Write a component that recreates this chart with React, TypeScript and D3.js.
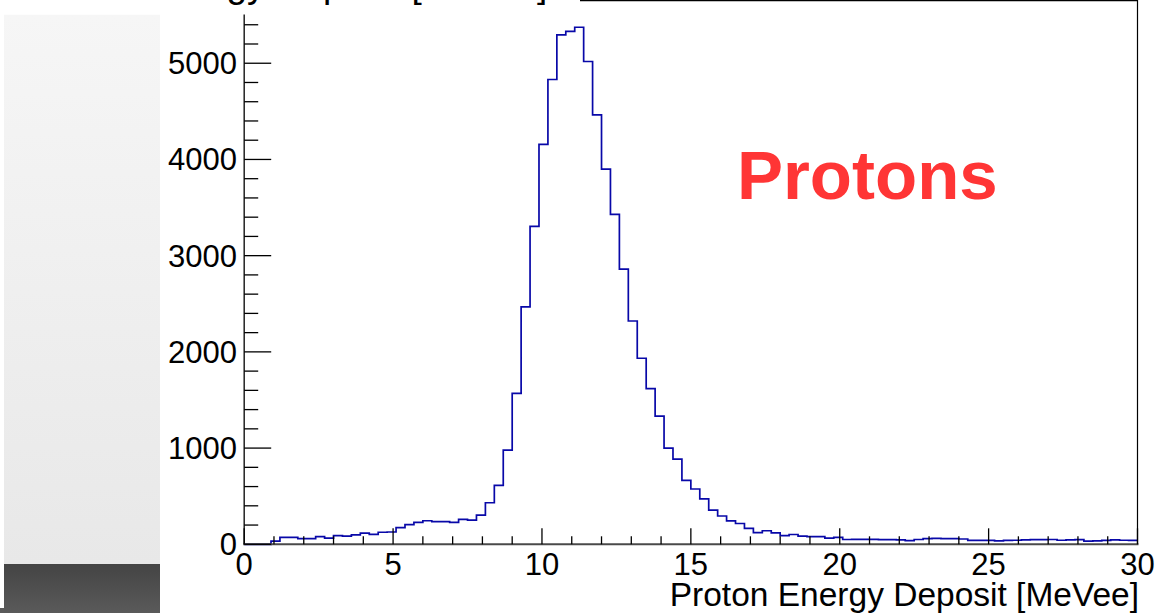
import React from "react";
import * as d3 from "d3";

// 100 bins, 0..30 MeVee, width 0.3
const binLow = 0;
const binHigh = 30;
const counts: number[] = [
  0, 0, 0, 32, 73, 73, 60, 60, 79, 65,
  90, 85, 97, 117, 104, 125, 128, 173, 204, 228,
  245, 235, 235, 228, 260, 252, 304, 432, 612, 979,
  1568, 2467, 3305, 4156, 4831, 5295, 5332, 5374, 5018, 4464,
  3900, 3429, 2861, 2321, 1934, 1618, 1332, 1000, 886, 664,
  575, 472, 356, 294, 244, 216, 166, 121, 141, 118,
  90, 102, 86, 79, 79, 65, 72, 50, 52, 52,
  52, 48, 48, 45, 38, 50, 58, 62, 60, 58,
  55, 40, 40, 40, 35, 40, 42, 45, 48, 48,
  50, 42, 45, 48, 34, 36, 40, 45, 42, 40,
];
const yMax = 5650;
const xTickLabels = ["0", "5", "10", "15", "20", "25", "30"];
const yTickLabels = ["0", "1000", "2000", "3000", "4000", "5000"];
const titleText = "Proton Energy Deposit [MeVee]";
const xAxisTitle = "Proton Energy Deposit [MeVee]";
const annotation = "Protons";

const W = 1156;
const H = 613;
const FONT = "'Liberation Sans', Arial, Helvetica, sans-serif";

export default function App() {
  const x = d3.scaleLinear().domain([binLow, binHigh]).range([244.2, 1137.5]);
  const y = d3.scaleLinear().domain([0, yMax]).range([544.3, 0.7]);
  const bw = (binHigh - binLow) / counts.length;

  const pts: [number, number][] = counts.map((c, i) => [binLow + i * bw, c]);
  pts.push([binHigh, counts[counts.length - 1]]);
  const line = d3
    .line<[number, number]>()
    .x((d) => x(d[0]))
    .y((d) => y(d[1]))
    .curve(d3.curveStepAfter);
  const histPath = line(pts) || "";

  const xMinor = d3.range(0, 31, 1);
  const yMinor = d3.range(0, yMax, 200);

  return (
    <svg
      width={W}
      height={H}
      style={{ position: "absolute", left: 0, top: 0, background: "#fff" }}
    >
      <defs>
        <linearGradient id="lightPanel" x1="0" y1="0" x2="0" y2="1">
          <stop offset="0" stopColor="#f6f6f6" />
          <stop offset="1" stopColor="#e8e8e8" />
        </linearGradient>
        <linearGradient id="darkPanel" x1="0" y1="0" x2="0" y2="1">
          <stop offset="0" stopColor="#444444" />
          <stop offset="1" stopColor="#5a5a5a" />
        </linearGradient>
      </defs>
      {/* left background panel */}
      <rect x={4} y={14.5} width={156} height={550} fill="url(#lightPanel)" />
      <rect x={4} y={564} width={156} height={49} fill="url(#darkPanel)" />
      <rect x={0} y={608} width={4} height={5} fill="#5a5a5a" />

      {/* histogram */}
      <path d={histPath} fill="none" stroke="#0808a8" strokeWidth={1.7} />

      {/* frame */}
      <line x1={x(30)} x2={x(30)} y1={0} y2={y(0)} stroke="#000" strokeWidth={1.2} />
      <line x1={x(0)} x2={x(30)} y1={0.6} y2={0.6} stroke="#000" strokeWidth={1.2} />
      <line x1={x(0)} x2={x(0)} y1={0} y2={y(0)} stroke="#222" strokeWidth={1.5} />
      <line x1={x(0) - 1} x2={x(30) + 1} y1={y(0)} y2={y(0)} stroke="#4a4a4a" strokeWidth={2} />

      {/* x ticks */}
      {xMinor.map((v) => (
        <line
          key={"xt" + v}
          x1={x(v)}
          x2={x(v)}
          y1={y(0)}
          y2={y(0) - (v % 5 === 0 ? 16 : 8)}
          stroke="#000"
          strokeWidth={1.3}
        />
      ))}
      {xTickLabels.map((t) => (
        <text
          key={"xl" + t}
          x={x(+t)}
          y={575}
          textAnchor="middle"
          fontFamily={FONT}
          fontSize={31}
          fill="#000"
        >
          {t}
        </text>
      ))}

      {/* y ticks */}
      {yMinor.map((v) => (
        <line
          key={"yt" + v}
          x1={x(0)}
          x2={x(0) + (v % 1000 === 0 ? 27 : 14)}
          y1={y(v)}
          y2={y(v)}
          stroke="#000"
          strokeWidth={1.3}
        />
      ))}
      {yTickLabels.map((t) => (
        <text
          key={"yl" + t}
          x={237}
          y={y(+t) + 11}
          textAnchor="end"
          fontFamily={FONT}
          fontSize={31}
          fill="#000"
        >
          {t}
        </text>
      ))}

      {/* axis title */}
      <text
        x={1139}
        y={606}
        textAnchor="end"
        fontFamily={FONT}
        fontSize={33.5}
        fill="#000"
      >
        {xAxisTitle}
      </text>

      {/* title box (mostly off-page) */}
      <rect x={0} y={0} width={580} height={14.5} fill="#fff" />
      <text x={29} y={-3} fontFamily={FONT} fontSize={37} fill="#000">
        {titleText}
      </text>

      {/* annotation */}
      <text
        x={737}
        y={199}
        fontFamily={FONT}
        fontWeight="bold"
        fontSize={69}
        fill="#ff3535"
      >
        {annotation}
      </text>
    </svg>
  );
}
